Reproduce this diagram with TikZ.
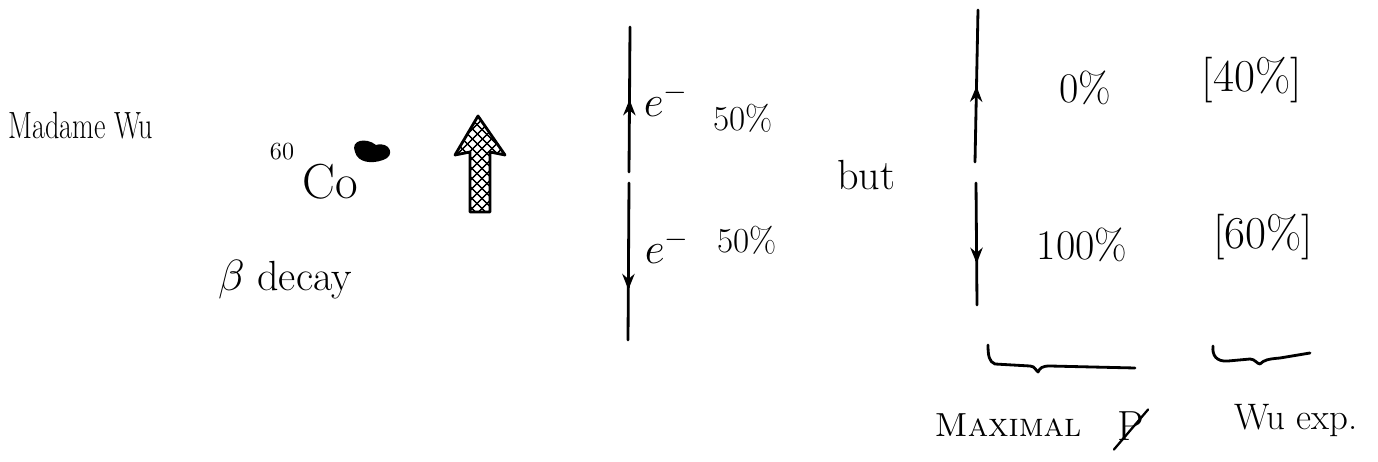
\documentclass[tikz,border=0pt]{standalone}
\usetikzlibrary{patterns.meta,decorations.markings,arrows.meta}
\begin{document}
\begin{tikzpicture}[x=0.02cm,y=-0.02cm,
  hand/.style={inner sep=0pt, font=\fontsize{24}{28}\selectfont},
  small/.style={inner sep=0pt, font=\fontsize{14}{16}\selectfont},
  stroke/.style={line width=1.6pt, line cap=round, line join=round},
  midtip/.style={postaction={decorate}, decoration={markings, mark=at position #1 with {\arrow{Stealth[length=9pt,width=7pt]}}}},
]
\useasboundingbox (0,0) rectangle (1378,462);

% left texts
\node[hand, font=\fontsize{16}{20}\selectfont, anchor=west] (wu) at (8,126) {\scalebox{1}[1.35]{Madame Wu}};
\node[small] (sixty) at (282,152) {60};
\node[hand, font=\fontsize{28}{32}\selectfont] (co) at (330,182) {Co};
\node[hand] (beta) at (285,280) {$\beta$ decay};

% blob (polarised nucleus)
\fill[black] (355,152) .. controls (350,140) and (366,137) .. (376,145)
  .. controls (390,141) and (396,156) .. (383,160)
  .. controls (372,164) and (358,163) .. (355,152) -- cycle;

% hatched spin arrow
\path[pattern={Lines[angle=45,distance=4pt,line width=0.9pt]},
      postaction={pattern={Lines[angle=-45,distance=4pt,line width=0.9pt]}}]
  (478,116) -- (505,155) -- (490,152) -- (490,212) -- (470,212) -- (470,152) -- (455,155) -- cycle;
\draw[stroke] (478,116) -- (505,155) -- (490,152) -- (490,212) -- (470,212) -- (470,152) -- (455,155) -- cycle;

% first pair of electron arrows
\coordinate (a1t) at (630,27);
\coordinate (a1b) at (629,172);
\coordinate (a2t) at (629,183);
\coordinate (a2b) at (628,340);
\draw[stroke, midtip=0.5] (a1b) -- (a1t);
\draw[stroke, midtip=0.68] (a2t) -- (a2b);
\node[hand] (e1) at (666,100) {$e^-$};
\node[hand, font=\fontsize{20}{24}\selectfont] (p1) at (743,118) {50\%};
\node[hand] (e2) at (667,247) {$e^-$};
\node[hand, font=\fontsize{20}{24}\selectfont] (p2) at (747,240) {50\%};

\node[hand] (but) at (866,175) {but};

% second pair
\coordinate (b1t) at (978,10);
\coordinate (b1b) at (975,162);
\coordinate (b2t) at (976,183);
\coordinate (b2b) at (977,305);
\draw[stroke, midtip=0.5] (b1b) -- (b1t);
\draw[stroke, midtip=0.66] (b2t) -- (b2b);
\node[hand] (z) at (1085,88) {0\%};
\node[hand, font=\fontsize{26}{30}\selectfont] (f) at (1252,80) {[40\%]};
\node[hand] (h) at (1082,245) {100\%};
\node[hand, font=\fontsize{26}{30}\selectfont] (s) at (1263,237) {[60\%]};

% braces
\draw[stroke] (988,345) .. controls (988,355) and (989,362) .. (995,364)
  -- (1030,366) .. controls (1035,366) and (1036,371) .. (1038,372)
  .. controls (1040,368) and (1042,366) .. (1050,366) -- (1135,368);
\draw[stroke] (1213,346) .. controls (1212,355) and (1216,362) .. (1228,361)
  -- (1250,359) .. controls (1255,359) and (1257,364) .. (1260,364)
  .. controls (1264,360) and (1268,359) .. (1280,358) -- (1310,353);

\node[hand, font=\fontsize{19}{24}\selectfont] (mx) at (1008,425) {\textsc{Maximal}};
\node[hand] (np) at (1131,426) {P};
\draw[line width=1.3pt, line cap=round] ([xshift=-2pt,yshift=-5pt]np.south west) -- ([xshift=2pt,yshift=1pt]np.north east);
\node[hand, font=\fontsize{21}{24}\selectfont] (we) at (1296,420) {Wu exp.};
\end{tikzpicture}
\end{document}
